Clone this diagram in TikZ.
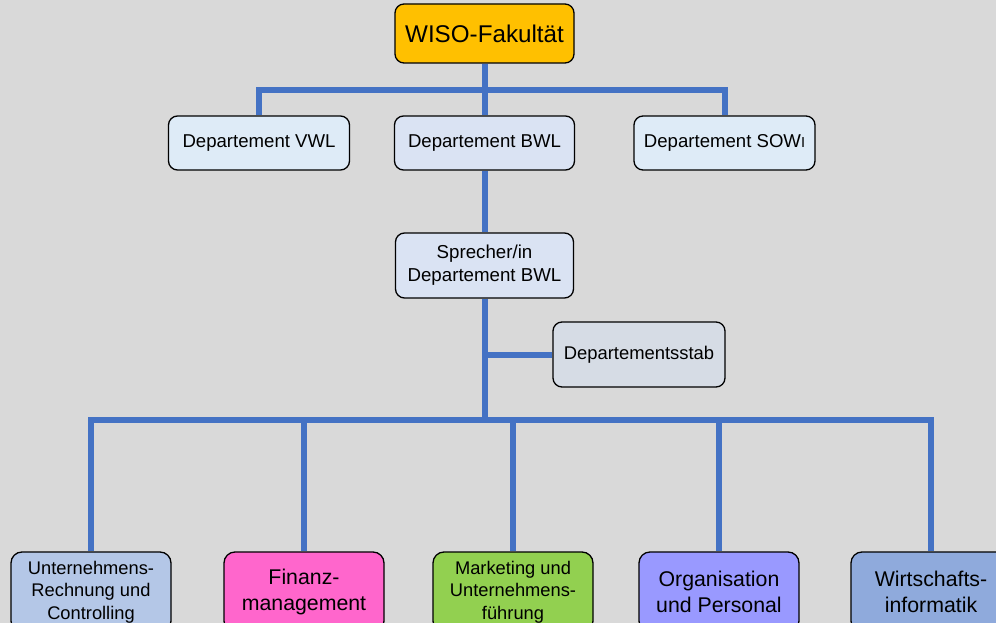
\documentclass[tikz,border=0pt]{standalone}
\usepackage{fontspec}
\setmainfont{Liberation Sans}
\usetikzlibrary{backgrounds}
\definecolor{bg}{HTML}{D9D9D9}
\definecolor{conn}{HTML}{4472C4}
\definecolor{cwiso}{HTML}{FFC000}
\definecolor{cdept}{HTML}{DEEBF7}
\definecolor{cbwl}{HTML}{DAE3F3}
\definecolor{cstab}{HTML}{D6DCE5}
\definecolor{cur}{HTML}{B4C7E7}
\definecolor{cfin}{HTML}{FF66CC}
\definecolor{cmark}{HTML}{92D050}
\definecolor{corg}{HTML}{9999FF}
\definecolor{cwi}{HTML}{8FAADC}
\tikzset{
  box/.style={draw=black, line width=1.3pt, rounded corners=9pt, align=center, inner sep=0pt},
  dept/.style={box, minimum width=180pt, minimum height=54pt, font=\fontsize{18.6}{22}\selectfont},
  unit/.style={box, rounded corners=11pt, minimum width=160pt, minimum height=80pt},
  small3/.style={font=\fontsize{18.3}{22.5}\selectfont},
  big2/.style={font=\fontsize{21.3}{26}\selectfont},
  link/.style={draw=conn, line width=6pt, line join=miter}
}
\begin{document}
\begin{tikzpicture}[x=1pt,y=-1pt]
\useasboundingbox (0,0) rectangle (996,623);
\clip (0,0) rectangle (996,623);
% nodes
\node[box, fill=cwiso, minimum width=179pt, minimum height=59pt, font=\fontsize{24.2}{28}\selectfont] (wiso) at (484.5,33.5) {WISO-Fakult\"at};
\node[dept, fill=cdept, minimum width=181pt] (vwl) at (259,143) {Departement VWL};
\node[dept, fill=cbwl] (bwl) at (484.5,143) {Departement BWL};
\node[dept, fill=cdept, minimum width=181pt] (sowi) at (724.5,143) {Departement SOW{\fontsize{14.5}{14}\selectfont I}};
\node[box, fill=cbwl, minimum width=178pt, minimum height=65pt, font=\fontsize{18.7}{23}\selectfont] (spr) at (484.5,265.5) {Sprecher/in\\Departement BWL};
\node[box, fill=cstab, minimum width=172pt, minimum height=65pt, font=\fontsize{18.4}{23}\selectfont] (stab) at (639,354.5) {Departementsstab};
\node[unit, fill=cur, small3] (ur) at (91,592) {Unternehmens-\\Rechnung und\\Controlling};
\node[unit, fill=cfin, big2] (fin) at (304,592) {Finanz-\\management};
\node[unit, fill=cmark, small3] (mark) at (513,592) {Marketing und\\Unternehmens-\\f\"uhrung};
\node[unit, fill=corg, big2] (org) at (719,592) {Organisation\\und Personal};
\node[unit, fill=cwi, big2] (wi) at (931,592) {Wirtschafts-\\informatik};
% junction coordinates
\coordinate (j1) at (484.5,90);
\coordinate (j3) at (484.5,420);
\begin{scope}[on background layer]
\fill[bg] (0,0) rectangle (996,623);
\draw[link] (wiso.south) -- (j1);
\draw[link] (j1) -| (vwl.north);
\draw[link] (j1) -| (sowi.north);
\draw[link] (j1) -- (bwl.north);
\draw[link] (bwl.south) -- (spr.north);
\draw[link] (spr.south) -- (j3);
\draw[link] (stab.west -| spr.south) -- (stab.west);
\draw[link] (j3) -| (ur.north);
\draw[link] (j3) -| (fin.north);
\draw[link] (j3) -| (mark.north);
\draw[link] (j3) -| (org.north);
\draw[link] (j3) -| (wi.north);
\end{scope}
\end{tikzpicture}
\end{document}
